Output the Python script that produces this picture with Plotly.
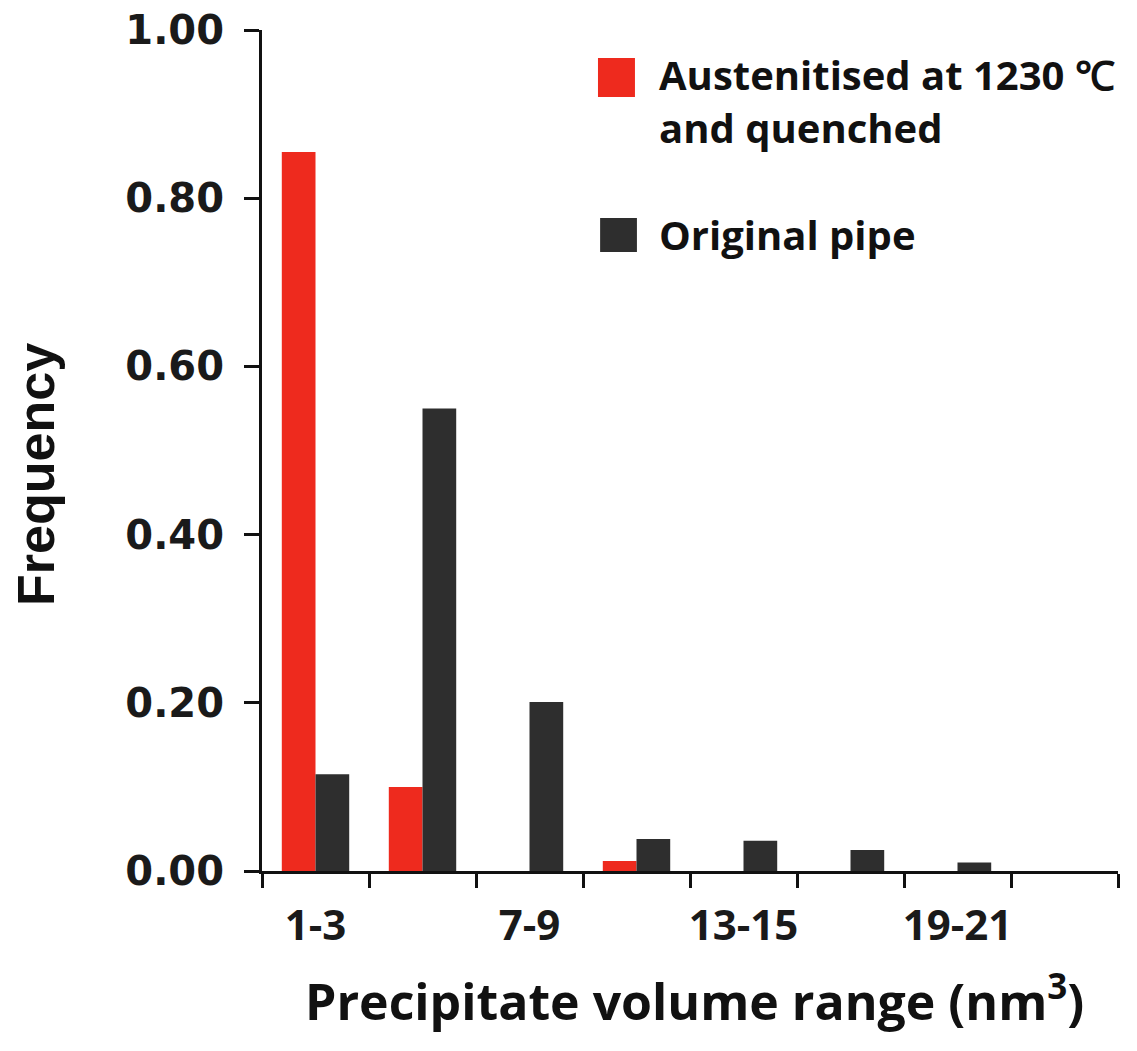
import plotly.graph_objects as go

# volume bins (nm^3) and frequencies
categories = ["1-3", "4-6", "7-9", "10-12", "13-15", "16-18", "19-21", "22-24"]
tick_labels = ["1-3", "", "7-9", "", "13-15", "", "19-21", ""]
austenitised = [0.855, 0.100, 0.0, 0.012, 0.0, 0.0, 0.0, 0.0]
original_pipe = [0.115, 0.550, 0.201, 0.038, 0.036, 0.025, 0.010, 0.0]

RED = "#ee2a1e"
DARK = "#2e2e2e"

fig = go.Figure()
fig.add_trace(go.Bar(x=categories, y=austenitised, name="Austenitised at 1230℃ and quenched",
                     marker=dict(color=RED, line=dict(width=0))))
fig.add_trace(go.Bar(x=categories, y=original_pipe, name="Original pipe",
                     marker=dict(color=DARK, line=dict(width=0))))

# page body has an 8px margin, so the figure is sized to fit inside the window
fig.update_layout(
    width=1121, height=1035,
    margin=dict(l=254, r=11, t=22, b=172),
    paper_bgcolor="white", plot_bgcolor="white",
    barmode="group", bargap=0.37, bargroupgap=0,
    showlegend=False,
)

fig.update_xaxes(
    type="category", tickmode="array", tickvals=categories, ticktext=tick_labels,
    tickson="boundaries", ticks="outside", ticklen=14, tickwidth=3, tickcolor="#111",
    showline=True, linecolor="#111", linewidth=3, showgrid=False, zeroline=False,
    tickangle=0, automargin=False,
    tickfont=dict(family="Open Sans", size=42, color="#1a1a1a", weight=700),
    ticklabelstandoff=16,
)
fig.update_yaxes(
    range=[0, 1], tickvals=[0, 0.2, 0.4, 0.6, 0.8, 1.0], tickformat=".2f",
    ticks="outside", ticklen=15, tickwidth=3, tickcolor="#111",
    showline=True, linecolor="#111", linewidth=3, showgrid=False, zeroline=False,
    automargin=False,
    tickfont=dict(family="DejaVu Sans", size=40, color="#1a1a1a", weight=700),
    ticklabelstandoff=12, ticklabeloverflow="allow",
)

# axis titles
fig.add_annotation(text="Precipitate volume range (nm<sup>3</sup>)", xref="paper", yref="paper",
                   x=0.505, y=-0.152, showarrow=False, xanchor="center", yanchor="middle",
                   font=dict(family="Open Sans", size=50, color="#111", weight=700))
fig.add_annotation(text="Frequency", xref="paper", yref="paper", textangle=-90,
                   x=-0.264, y=0.471, showarrow=False, xanchor="center", yanchor="middle",
                   font=dict(family="Liberation Sans Narrow, Liberation Sans", size=52, color="#111", weight=700))

# legend drawn as squares + text
fig.add_shape(type="rect", xref="paper", yref="paper", x0=0.3925, x1=0.4357, y0=0.9203, y1=0.9667,
              fillcolor=RED, line=dict(width=0))
fig.add_shape(type="rect", xref="paper", yref="paper", x0=0.395, x1=0.438, y0=0.736, y1=0.7765,
              fillcolor=DARK, line=dict(width=0))
legend_font = dict(family="Open Sans", size=40, color="#111", weight=700)
for txt, yy in [("Austenitised at 1230 ℃", 0.9475), ("and quenched", 0.8837), ("Original pipe", 0.7574)]:
    fig.add_annotation(text=txt, xref="paper", yref="paper", x=0.4614, y=yy, showarrow=False,
                       xanchor="left", yanchor="middle", font=legend_font)

fig.write_html("out.html")
